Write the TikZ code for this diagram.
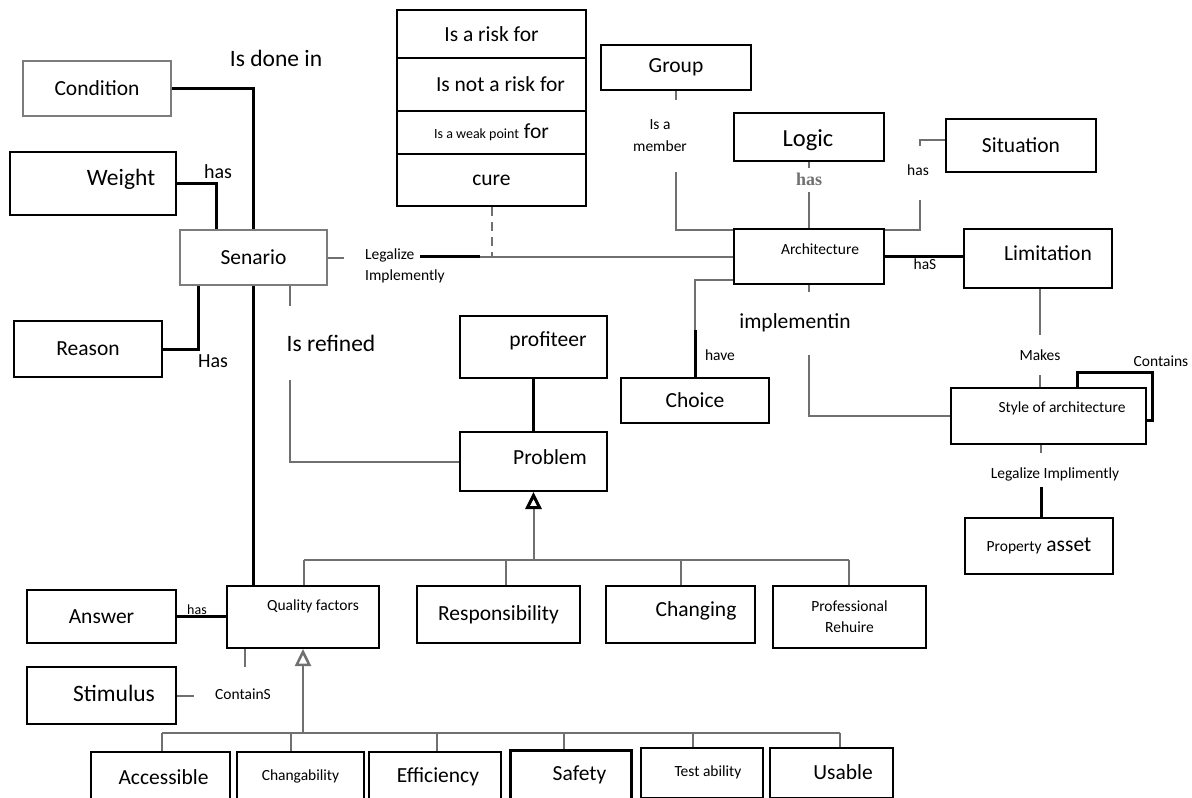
\documentclass[tikz,border=0pt]{standalone}
\usepackage{fontspec}
\setmainfont{Carlito}
\newfontfamily\serifhas{Liberation Serif}
\usetikzlibrary{arrows.meta}

\newcommand{\fsz}[1]{\fontsize{#1}{1.35\dimexpr#1pt\relax}\selectfont}

\definecolor{linegray}{HTML}{707070}
\definecolor{boxgray}{HTML}{7C7C7C}

\tikzset{
  box/.style={draw, line width=2pt, inner sep=0pt, font=\fsz{21.5}},
  grbox/.style={box, draw=boxgray},
  leafbox/.style={box, line width=2.5pt},
  sz/.style 2 args={minimum width=#1pt, minimum height=#2pt},
  link/.style={draw=linegray, line width=2pt},
  boldlink/.style={draw=black, line width=3pt},
  lbl/.style={inner sep=0pt, font=\fsz{15.5}},
  mid/.style={inner sep=0pt, font=\fsz{21.5}},
  big/.style={inner sep=0pt, font=\fsz{23.5}},
  isa/.style={-{Triangle[open, width=#1, length=17pt, line width=2.5pt]}},
  isa/.default=16pt
}

\begin{document}
\begin{tikzpicture}[x=1pt, y=-1pt]
    \useasboundingbox (0,0) rectangle (1192,798);

    % scenario side
    \node[grbox, sz={148}{55}] (cond) at (97,88.5) {Condition};
    \node[box, sz={166}{63}] (weight) at (93,183.5) {};
    \node[big] (weightt) at (121,179) {Weight};
    \node[grbox, sz={147}{55}] (senario) at (253.5,257.5) {Senario};
    \node[box, sz={148}{56}] (reason) at (88,349) {Reason};

    % risk table
    \node[box, sz={189}{48}] (risk) at (491.5,34) {Is a risk for};
    \node[box, sz={189}{53}] (notrisk) at (491.5,84.5) {\hspace*{18pt}Is not a risk for};
    \node[box, sz={189}{43}] (weak) at (491.5,132.5) {{\fsz{14}Is a weak point} for};
    \node[box, sz={189}{52}] (cure) at (491.5,180) {cure};

    % architecture side
    \node[box, sz={150}{45}] (group) at (676,67.5) {Group};
    \node[box, sz={150}{48}] (logic) at (809,137) {};
    \node[inner sep=0pt, font=\fsz{24.5}] (logict) at (808,140) {Logic};
    \node[box, sz={150}{53}] (situation) at (1021,145.5) {Situation};
    \node[box, sz={150}{55}] (arch) at (809,256.5) {};
    \node[lbl] (archt) at (820,249) {Architecture};
    \node[box, sz={148}{59}] (limit) at (1038,258.5) {};
    \node[mid] (limitt) at (1048,253) {Limitation};
    \node[box, sz={148}{45}] (choice) at (695,400.5) {Choice};
    \node[box, sz={195}{56}] (style) at (1048.5,416) {};
    \node[lbl] (stylet) at (1062,408) {Style of architecture};
    \node[box, sz={148}{56}] (asset) at (1039,546) {{\fsz{15.5}Property} asset};

    % problem side
    \node[box, sz={147}{62}] (profit) at (533.5,347) {};
    \node[mid] (profitt) at (548,341) {profiteer};
    \node[box, sz={147}{59}] (problem) at (533.5,461.5) {};
    \node[mid] (problemt) at (550,457) {Problem};
    \node[box, sz={152}{62}] (qf) at (303,617) {};
    \node[lbl] (qft) at (313,606) {Quality factors};
    \node[box, sz={149}{53}] (answer) at (101.5,616.5) {Answer};
    \node[box, sz={149}{57}] (stim) at (101.5,695.5) {};
    \node[big] (stimt) at (114,693) {Stimulus};
    \node[box, sz={163}{57}] (resp) at (498.5,614.5) {Responsibility};
    \node[box, sz={149}{57}] (chg) at (680.5,614.5) {};
    \node[mid] (chgt) at (696,611) {Changing};
    \node[box, sz={153}{62}, font=\fontsize{15.5}{21}\selectfont, align=center] (prof) at (849.5,617) {Professional\\Rehuire};

    % quality factors
    \node[leafbox, sz={139}{50}] (acc) at (160.5,777) {\hspace*{6pt}Accessible};
    \node[leafbox, sz={127}{50}, font=\fsz{15.5}] (chgb) at (300.5,777) {\raisebox{4pt}{Changability}};
    \node[leafbox, sz={132}{50}] (eff) at (435,777) {\hspace*{6pt}Efficiency};
    \node[leafbox, sz={121}{50}, line width=3pt] (safe) at (570.5,775) {\hspace*{18pt}Safety};
    \node[leafbox, sz={122}{50}, font=\fsz{15.5}] (test) at (702,773) {\hspace*{12pt}\raisebox{4pt}{Test ability}};
    \node[leafbox, sz={123}{50}] (usab) at (831.5,773) {};
    \node[mid] (usabt) at (843,772) {Usable};

    % labels
    \node[big] (done) at (276,58) {Is done in};
    \node[inner sep=0pt, font=\fsz{20}] (whas) at (218,172) {has};
    \node[inner sep=0pt, font=\fsz{20}] (rhas) at (213,361) {Has};
    \node[lbl, font=\fontsize{15.5}{21}\selectfont, align=left, anchor=west] (legal) at (365,266) {Legalize\\Implemently};
    \node[big] (refined) at (331,343) {Is refined};
    \node[lbl, font=\fontsize{15.5}{22}\selectfont, align=center] (member) at (660,136) {Is a\\member};
    \node[inner sep=0pt, font=\serifhas\bfseries\fontsize{18}{18}\selectfont, text=linegray] (loghas) at (809,179) {has};
    \node[lbl] (shas) at (918,170) {has};
    \node[lbl] (lhas) at (925,264) {haS};
    \node[lbl] (have) at (720,355) {have};
    \node[mid] (impl) at (795,323) {implementin};
    \node[lbl] (makes) at (1040,355) {Makes};
    \node[lbl] (contains) at (1161,361) {Contains};
    \node[lbl] (legal2) at (1055,474) {Legalize Implimently};
    \node[lbl, font=\fsz{14}] (ahas) at (197,610) {has};
    \node[lbl] (containS) at (243,694) {ContainS};

    % scenario links
    \draw[boldlink] (cond.east) -| (senario.north);
    \draw[boldlink] (weight.east) -| ([xshift=-37.5pt]senario.north);
    \draw[boldlink] (reason.east) -| ([xshift=-55.5pt]senario.south);
    \draw[boldlink] (senario.south) -- (senario.south |- qf.north);

    % legalize implemently
    \coordinate (lgA) at (420,256.5);
    \coordinate (lgB) at (480,256.5);
    \draw[link] (senario.east) -- ++(16,0);
    \draw[boldlink] (lgA) -- (lgB);
    \draw[link] (lgB) -- (arch.west);
    \draw[link, dash pattern=on 9pt off 6pt] (cure.south) -- (cure.south |- arch.west);

    % is refined
    \coordinate (refA) at (290,306);
    \coordinate (refB) at (290,380);
    \draw[link] ([xshift=36.5pt]senario.south) -- (refA);
    \draw[link] (refB) |- (problem.west);

    % architecture links
    \coordinate (grpB) at (676,172);
    \draw[link] (group.south) -- ++(0,9);
    \draw[link] (grpB) |- ([yshift=-2pt]arch.north west);
    \coordinate (logB) at (809,192);
    \draw[link] (logic.south) -- ++(0,6);
    \draw[link] (logB) -- (arch.north);
    \coordinate (sitA) at (920,146);
    \coordinate (sitB) at (920,200);
    \draw[link] ([yshift=5.5pt]situation.west) -| (sitA);
    \draw[link] (sitB) |- ([yshift=-2pt]arch.north east);
    \draw[boldlink] (arch.east) -- (arch.east -| limit.west);
    \coordinate (chA) at (695,330);
    \draw[link] ([yshift=-23.5pt]arch.west) -| (chA);
    \draw[boldlink] (chA) -- (choice.north);
    \coordinate (impA) at (809,355);
    \draw[link] (arch.south) -- ++(0,7);
    \draw[link] (impA) |- (style.west);

    % limitation and style
    \coordinate (mkA) at (1040,375);
    \draw[link] ([xshift=2pt]limit.south) -- ++(0,46);
    \draw[link] (mkA) -- (mkA |- style.north);
    \draw[boldlink] ([xshift=28.5pt]style.north) |- (1152,372) |- ([yshift=-4pt]style.east);
    \coordinate (lgC) at (1041,487);
    \draw[link] (style.south -| lgC) -- ++(0,8);
    \draw[boldlink] (lgC) -- (lgC |- asset.north);

    % problem tree
    \draw[boldlink] (profit.south) -- (problem.north);
    \coordinate (pbA) at (533.5,560);
    \draw[link, isa, -{Triangle[open, width=16pt, length=17pt, line width=3pt, color=black]}] (pbA) -- (problem.south);
    \draw[link] (304,560) -- (849,560);
    \foreach \n/\x in {qf/304, resp/506, chg/681, prof/849}
        \draw[link] (\x,560) -- (\x,0 |- \n.north);

    % quality factor tree
    \coordinate (qfA) at (303,733);
    \draw[link, isa] (qfA) -- (qf.south);
    \draw[link] (162,733) -- (840,733);
    \foreach \n/\x in {acc/162, chgb/291, eff/437, safe/564, test/693, usab/840}
        \draw[link] (\x,733) -- (\x,0 |- \n.north);

    % answer and stimulus
    \draw[boldlink] (answer.east) -- (answer.east -| qf.west);
    \draw[link] ([xshift=-58pt]qf.south) -- ++(0,18);
    \draw[link] (stim.east) -- ++(17,0);
\end{tikzpicture}
\end{document}
